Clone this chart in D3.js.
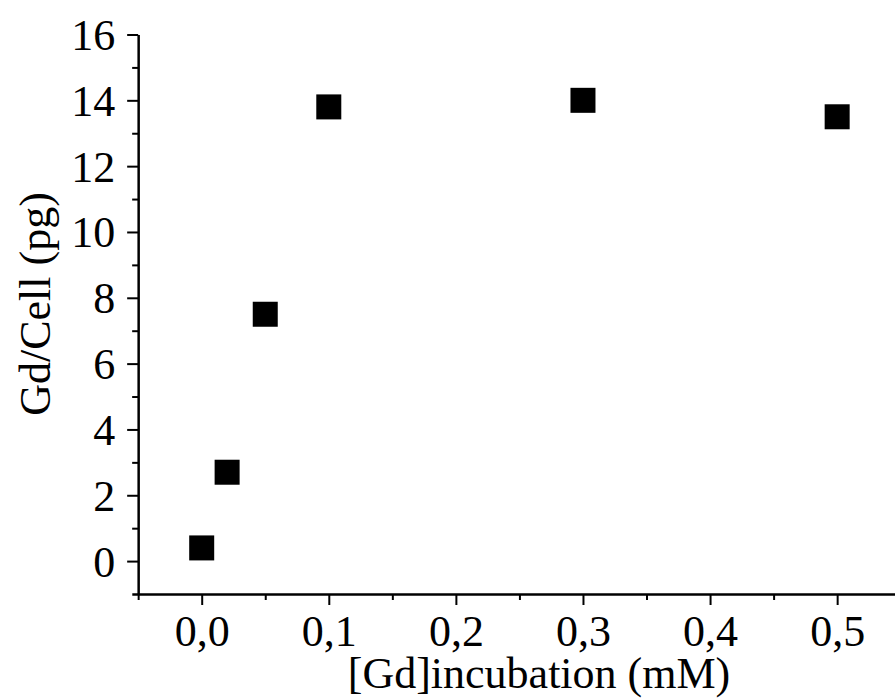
<!DOCTYPE html>
<html>
<head>
<meta charset="utf-8">
<script src="https://cdn.jsdelivr.net/npm/d3@7"></script>
<style>
  body { margin: 0; background: #fff; }
  svg text { font-family: "Liberation Serif", "Times New Roman", serif; fill: #000; }
</style>
</head>
<body>
<div id="chart"></div>
<script>
// data
const concentrations = [0, 0.02, 0.05, 0.1, 0.3, 0.5];   // mM
const gdPerCell = [0.4, 2.7, 7.5, 13.8, 14.0, 13.5];     // pg
const xMajorTicks = [0, 0.1, 0.2, 0.3, 0.4, 0.5];
const xMinorTicks = [-0.05, 0.05, 0.15, 0.25, 0.35, 0.45];
const yMajorTicks = [0, 2, 4, 6, 8, 10, 12, 14, 16];
const yMinorTicks = [1, 3, 5, 7, 9, 11, 13, 15];

const width = 895, height = 700;
const fontSize = 44;

const svg = d3.select('#chart').append('svg')
  .attr('width', width)
  .attr('height', height);

const x = d3.scaleLinear()
  .domain([-0.055, 0.55])
  .range([131.8, 900.7]);

const y = d3.scaleLinear()
  .domain([-1, 16])
  .range([594, 34.5]);

const fmt = d => d3.format('.1f')(d).replace('.', ',');

// x axis
const xAxis = svg.append('g')
  .attr('transform', `translate(0,${y(-1)})`)
  .call(d3.axisBottom(x).tickValues(xMajorTicks).tickFormat(fmt)
    .tickSize(11).tickSizeOuter(0).tickPadding(10));
svg.append('g')
  .attr('transform', `translate(0,${y(-1)})`)
  .call(d3.axisBottom(x).tickValues(xMinorTicks).tickFormat('')
    .tickSize(6).tickSizeOuter(0))
  .select('.domain').remove();

// y axis
const yAxis = svg.append('g')
  .attr('transform', `translate(${x(-0.05)},0)`)
  .call(d3.axisLeft(y).tickValues(yMajorTicks)
    .tickSize(11).tickSizeOuter(0).tickPadding(12));
svg.append('g')
  .attr('transform', `translate(${x(-0.05)},0)`)
  .call(d3.axisLeft(y).tickValues(yMinorTicks).tickFormat('')
    .tickSize(6).tickSizeOuter(0))
  .select('.domain').remove();

svg.selectAll('.domain').attr('stroke', '#000').attr('stroke-width', 2.5);
svg.selectAll('.tick line').attr('stroke', '#000').attr('stroke-width', 2);
svg.selectAll('.tick text')
  .style('font-family', '"Liberation Serif", "Times New Roman", serif')
  .style('font-size', fontSize + 'px')
  .attr('fill', '#000');
yAxis.selectAll('.tick text').attr('dy', '0.34em');

// markers
const size = 25;
svg.append('g')
  .selectAll('rect').data(concentrations)
  .enter().append('rect')
    .attr('x', (d) => x(d) - size / 2)
    .attr('y', (d, i) => y(gdPerCell[i]) - size / 2)
    .attr('width', size)
    .attr('height', size)
    .attr('fill', '#000');

// axis titles
svg.append('text')
  .attr('x', 539)
  .attr('y', 688)
  .attr('text-anchor', 'middle')
  .style('font-size', fontSize + 'px')
  .text('[Gd]incubation (mM)');

svg.append('text')
  .attr('transform', 'translate(50,304) rotate(-90)')
  .attr('text-anchor', 'middle')
  .style('font-size', fontSize + 'px')
  .text('Gd/Cell (pg)');
</script>
</body>
</html>
